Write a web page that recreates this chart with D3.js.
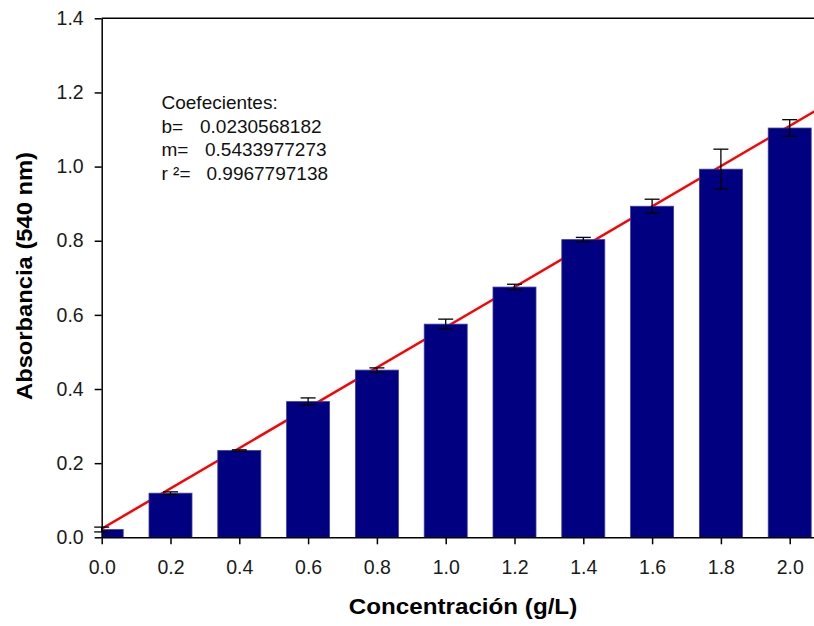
<!DOCTYPE html>
<html>
<head>
<meta charset="utf-8">
<script src="https://cdn.jsdelivr.net/npm/d3@7"></script>
<style>
  body { margin: 0; background: #fff; }
  text { font-family: "Liberation Sans", Arial, sans-serif; }
</style>
</head>
<body>
<script>
var width = 814,
    height = 626;

// concentracion (g/L), absorbancia media y error
var concentrations = [0.0, 0.2, 0.4, 0.6, 0.8, 1.0, 1.2, 1.4, 1.6, 1.8, 2.0];
var absorbance = [0.021, 0.119, 0.234, 0.366, 0.451, 0.575, 0.675, 0.803, 0.893, 0.993, 1.104];
var errors = [0.0065, 0.0036, 0.002, 0.010, 0.006, 0.0135, 0.0076, 0.006, 0.019, 0.054, 0.0225];

// regresion lineal
var coefLabels = ["b=", "m=", "r \u00b2="];
var coefValues = ["0.0230568182", "0.5433977273", "0.9967797138"];
var intercept = 0.0230568182,
    slope = 0.5433977273;

var xTicks = [0.0, 0.2, 0.4, 0.6, 0.8, 1.0, 1.2, 1.4, 1.6, 1.8, 2.0];
var yTicks = [0.0, 0.2, 0.4, 0.6, 0.8, 1.0, 1.2, 1.4];

var plotLeft = 101.7, plotTop = 18.3, plotBottom = 537.3;

var x = d3.scaleLinear().domain([0, 2.1]).range([plotLeft, plotLeft + 344 * 2.1]);
var y = d3.scaleLinear().domain([0, 1.4]).range([plotBottom, plotTop]);
var barW = x(0.125) - x(0);

var svg = d3.select('body').append('svg')
    .attr('xmlns', 'http://www.w3.org/2000/svg')
    .attr('width', width)
    .attr('height', height);

svg.append('rect').attr('width', width).attr('height', height).attr('fill', '#fff');

svg.append('clipPath').attr('id', 'plot')
    .append('rect')
    .attr('x', plotLeft).attr('y', plotTop)
    .attr('width', width - plotLeft).attr('height', plotBottom - plotTop);

var plot = svg.append('g').attr('clip-path', 'url(#plot)');

// linea de regresion (detras de las barras)
plot.append('line')
    .attr('x1', x(0)).attr('y1', y(intercept))
    .attr('x2', x(2.1)).attr('y2', y(intercept + slope * 2.1))
    .attr('stroke', '#ff0000')
    .attr('stroke-width', 2.5);

plot.selectAll('.bar')
    .data(concentrations)
    .enter().append('rect')
    .attr('class', 'bar')
    .attr('x', function (d) { return x(d) - barW / 2; })
    .attr('width', barW)
    .attr('y', function (d, i) { return y(absorbance[i]); })
    .attr('height', function (d, i) { return y(0) - y(absorbance[i]); })
    .attr('fill', '#000080')
    .attr('stroke', '#3a3aa6')
    .attr('stroke-width', 0.8);

// barras de error
var capW = 15;
var err = svg.append('g').attr('stroke', '#000').attr('stroke-width', 1.3);
concentrations.forEach(function (d, i) {
    var cx = x(d),
        y1 = y(absorbance[i] + errors[i]),
        y2 = y(absorbance[i] - errors[i]);
    err.append('line').attr('x1', cx).attr('x2', cx).attr('y1', y1).attr('y2', y2);
    err.append('line').attr('x1', cx - capW / 2).attr('x2', cx + capW / 2).attr('y1', y1).attr('y2', y1);
    err.append('line').attr('x1', cx - capW / 2).attr('x2', cx + capW / 2).attr('y1', y2).attr('y2', y2);
});

// ejes
var xAxis = svg.append('g')
    .attr('transform', 'translate(0,' + plotBottom + ')')
    .call(d3.axisBottom(x).tickValues(xTicks).tickFormat(d3.format('.1f')).tickSize(7).tickSizeOuter(0).tickPadding(16));

var yAxis = svg.append('g')
    .attr('transform', 'translate(' + plotLeft + ',0)')
    .call(d3.axisLeft(y).tickValues(yTicks).tickFormat(d3.format('.1f')).tickSize(7).tickSizeOuter(0).tickPadding(11));

[xAxis, yAxis].forEach(function (a) {
    a.selectAll('path, line').attr('stroke', '#000').attr('stroke-width', 1.5);
    a.selectAll('text')
        .attr('fill', '#1a1a1a')
        .style('font-size', '19.5px')
        .style('font-family', '"Liberation Sans", Arial, sans-serif');
});

// borde superior
svg.append('line')
    .attr('x1', plotLeft).attr('x2', width)
    .attr('y1', plotTop).attr('y2', plotTop)
    .attr('stroke', '#000').attr('stroke-width', 1.5);

// titulos
svg.append('text')
    .attr('transform', 'translate(463,614) scale(1.1,1)')
    .attr('text-anchor', 'middle')
    .style('font-size', '22px')
    .style('font-weight', 'bold')
    .text('Concentración (g/L)');

svg.append('text')
    .attr('transform', 'translate(24,276) rotate(-90) scale(1.08,1)')
    .attr('text-anchor', 'middle')
    .attr('dy', '0.35em')
    .style('font-size', '22px')
    .style('font-weight', 'bold')
    .text('Absorbancia (540 nm)');

// coeficientes
var notes = svg.append('g').style('font-size', '19px').attr('fill', '#111');
notes.append('text').attr('x', 161.5).attr('y', 109.3).text('Coefecientes:');
var valueX = [200, 205, 206.5];
coefLabels.forEach(function (lab, i) {
    var yy = 109.3 + 23.5 * (i + 1);
    notes.append('text').attr('x', 161.5).attr('y', yy).text(lab);
    notes.append('text').attr('x', valueX[i]).attr('y', yy).text(coefValues[i]);
});
</script>
</body>
</html>
